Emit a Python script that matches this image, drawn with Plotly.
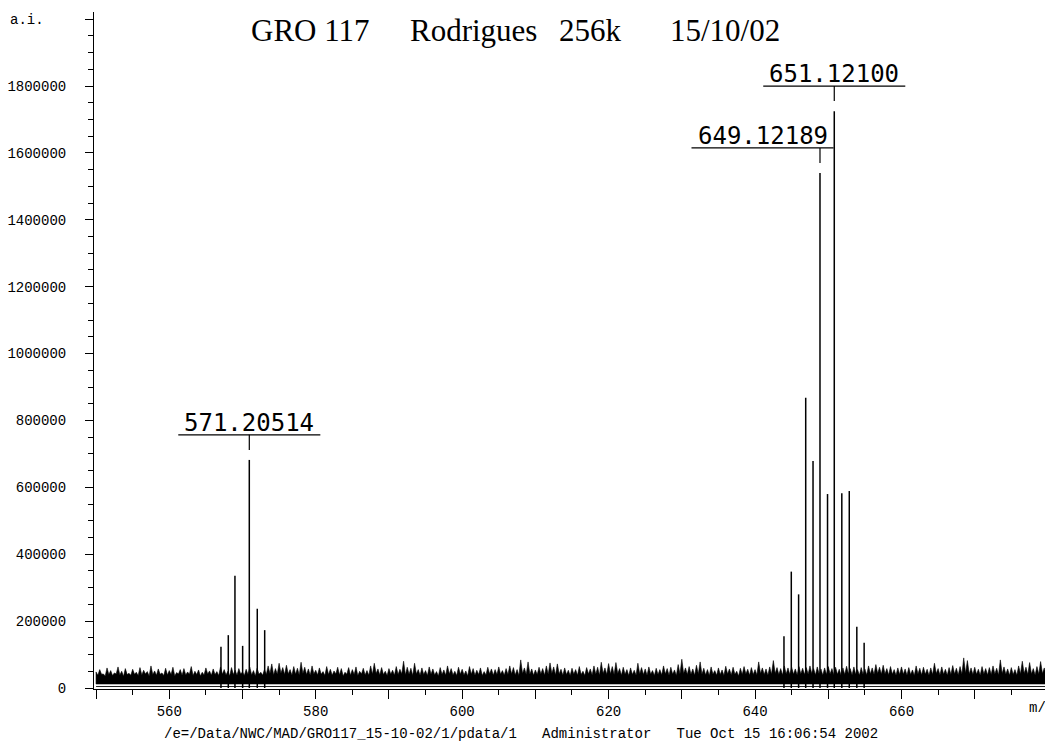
import plotly.graph_objects as go

# ---------------- data ----------------
peak_mz = [567.06, 568.06, 568.97, 570.02, 570.93, 572.02, 573.03,
           643.95, 644.95, 645.95, 646.92, 647.92, 648.87, 649.90, 650.82,
           651.85, 652.87, 653.90, 654.90]
peak_int = [123000, 158000, 336000, 126000, 682000, 237000, 173000,
            155000, 348000, 280000, 868000, 679000, 1540000, 580000, 1725000,
            582000, 589000, 183000, 135000]

label_mz = [570.93, 648.87, 650.82]
label_int = [682000, 1540000, 1725000]
label_text = ["571.20514", "649.12189", "651.12100"]

# noise spike tops (thousands of counts), every 0.5 m/z from 550.0
noise_start = 550.0
noise_step = 0.5
noise_hi_k = [
    48, 55, 42, 60, 52, 45, 63, 50, 58, 44,
    56, 47, 61, 53, 49, 66, 51, 57, 45, 59,
    52, 62, 46, 55, 58, 48, 64, 50, 54, 47,
    60, 51, 57, 49, 63, 55, 50, 61, 53, 58,
    48, 56, 62, 52, 59, 47, 55, 66, 72, 58,
    74, 61, 68, 55, 64, 59, 77, 62, 57, 66,
    53, 60, 49, 64, 56, 51, 62, 58, 47, 61,
    55, 63, 50, 59, 52, 66, 74, 57, 61, 50,
    58, 53, 64, 56, 80, 62, 59, 74, 55, 60,
    52, 63, 57, 49, 61, 54, 66, 58, 50, 62,
    56, 51, 64, 58, 53, 60, 49, 62, 57, 55,
    63, 52, 58, 66, 61, 55, 84, 60, 78, 57,
    54, 62, 58, 66, 75, 63, 72, 56, 60, 53,
    59, 55, 64, 50, 61, 57, 66, 62, 77, 60,
    73, 64, 76, 58, 62, 55, 60, 53, 74, 61,
    57, 63, 52, 59, 55, 66, 58, 62, 54, 70,
    86, 60, 64, 57, 68, 78, 59, 55, 63, 52,
    60, 54, 65, 57, 62, 50, 59, 64, 56, 61,
    55, 78, 60, 57, 63, 82, 61, 58, 66, 60,
    62, 57, 64, 59, 61, 66, 58, 63, 57, 60,
    64, 58, 62, 56, 60, 65, 58, 63, 55, 61,
    57, 66, 60, 70, 62, 68, 58, 64, 55, 60,
    63, 57, 61, 54, 66, 59, 62, 56, 60, 74,
    58, 63, 56, 61, 67, 59, 64, 90, 82, 60,
    62, 56, 64, 58, 61, 66, 59, 84, 63, 57,
    61, 55, 66, 80, 62, 76, 58, 64, 79, 60,
]
# valleys between the noise spikes (thousands of counts)
noise_lo_k = [
    38, 41, 36, 40, 37, 42, 39, 35, 40, 38,
    41, 37, 39, 42, 36, 40, 38, 41, 37, 39,
    40, 36, 42, 38, 39, 41, 37, 40, 36, 39,
    42, 38, 40, 37, 41, 39, 36, 40, 38, 42,
    37, 40, 39, 36, 41, 38, 40, 43, 39, 41,
    44, 40, 42, 38, 41, 39, 43, 40, 38, 42,
    39, 41, 37, 40, 38, 42, 39, 36, 41, 38,
    40, 37, 42, 39, 38, 41, 43, 39, 40, 37,
    41, 38, 40, 42, 39, 41, 37, 42, 38, 40,
    37, 41, 39, 36, 40, 38, 42, 39, 37, 41,
    39, 36, 41, 38, 40, 37, 39, 42, 38, 40,
    41, 38, 40, 42, 39, 37, 43, 40, 41, 38,
    40, 42, 38, 41, 43, 39, 42, 38, 40, 37,
    41, 38, 40, 37, 42, 39, 41, 38, 43, 40,
    42, 40, 43, 38, 41, 37, 40, 38, 42, 40,
    38, 41, 37, 40, 39, 42, 38, 41, 37, 42,
    43, 40, 41, 38, 42, 41, 39, 37, 41, 38,
    40, 37, 42, 39, 41, 36, 40, 42, 38, 40,
    39, 43, 40, 38, 41, 43, 40, 39, 42, 40,
    41, 39, 42, 40, 41, 43, 39, 42, 38, 40,
    42, 39, 41, 38, 40, 42, 39, 41, 38, 40,
    39, 42, 40, 43, 41, 42, 39, 41, 38, 40,
    41, 38, 40, 37, 42, 39, 41, 38, 40, 43,
    39, 41, 38, 40, 42, 39, 41, 44, 42, 40,
    41, 38, 42, 39, 40, 42, 39, 43, 41, 38,
    40, 38, 42, 43, 40, 42, 39, 41, 43, 40,
]
noise_floor = 12000     # bottom of the dense noise band
noise_base = 4500       # lowest noise trace

y_tickvals = [0, 200000, 400000, 600000, 800000, 1000000, 1200000,
              1400000, 1600000, 1800000, 2000000]
y_ticktext = ["0", "200000", "400000", "600000", "800000", "1000000",
              "1200000", "1400000", "1600000", "1800000", ""]
x_tickvals = [550, 560, 570, 580, 590, 600, 610, 620, 630, 640, 650, 660, 670]
x_ticktext = ["", "560", "", "580", "", "600", "", "620", "", "640", "", "660", ""]

title_parts = ["GRO 117", "Rodrigues", "256k", "15/10/02"]
footer_text = "/e=/Data/NWC/MAD/GRO117_15-10-02/1/pdata/1\u00a0\u00a0\u00a0Administrator\u00a0\u00a0\u00a0Tue Oct 15 16:06:54 2002"

# ---------------- layout geometry ----------------
W, H = 1045, 745
ML, MR, MT, MB = 94, 0, 12, 56
X_RANGE = [549.72, 679.6]
Y_RANGE = [-3000, 2021500]
PW, PH = W - ML - MR, H - MT - MB


def px_x(px):
    return (px - ML) / PW


def px_y(py):
    return (H - MB - py) / PH


noise_mz = [noise_start + i * noise_step for i in range(len(noise_hi_k))]

fig = go.Figure()

# noise band: spikes (tops) alternating with valleys, filled down to the floor
bx, by = [noise_mz[0]], [noise_floor]
for m, hi, lo in zip(noise_mz, noise_hi_k, noise_lo_k):
    bx += [m, m + noise_step / 2]
    by += [hi * 1000, lo * 1000]
bx += [noise_mz[-1] + noise_step / 2, noise_mz[0]]
by += [noise_floor, noise_floor]
fig.add_trace(go.Scatter(x=bx, y=by, fill="toself", fillcolor="black",
                         mode="lines", line=dict(width=0.6, color="black"),
                         hoverinfo="skip"))

# lowest noise trace
fig.add_trace(go.Scatter(x=[noise_mz[0], noise_mz[-1] + noise_step / 2],
                         y=[noise_base, noise_base],
                         mode="lines", line=dict(color="#222", width=1.2),
                         hoverinfo="skip"))

# peaks
px_, py_ = [], []
for m, h in zip(peak_mz, peak_int):
    px_ += [m, m, None]
    py_ += [0, h, None]
fig.add_trace(go.Scatter(x=px_, y=py_, mode="lines",
                         line=dict(color="black", width=1.5), hoverinfo="skip"))

# peak labels
gap = 30000
marker_len = 45000
half_w = 9.7
label_shift = [0, -7.85, 0]
for m, h, t, s in zip(label_mz, label_int, label_text, label_shift):
    y_line = h + gap + marker_len
    fig.add_shape(type="line", xref="x", yref="y", x0=m, x1=m,
                  y0=h + gap, y1=y_line, line=dict(color="black", width=1.2))
    fig.add_shape(type="line", xref="x", yref="y", x0=m + s - half_w,
                  x1=m + s + half_w, y0=y_line, y1=y_line,
                  line=dict(color="black", width=1.2))
    fig.add_annotation(x=m + s, y=y_line, xref="x", yref="y", text=t,
                       showarrow=False, yanchor="bottom", xanchor="center",
                       yshift=-4,
                       font=dict(family="DejaVu Sans Mono", size=24, color="black"))

# title pieces
title_centers = [310, 473, 590, 725]
for t, c in zip(title_parts, title_centers):
    fig.add_annotation(x=px_x(c), y=px_y(31), xref="paper", yref="paper",
                       text=t, showarrow=False, xanchor="center", yanchor="middle",
                       font=dict(family="Liberation Serif", size=31, color="black"))

mono = dict(family="Liberation Mono", size=14, color="black")
fig.add_annotation(x=px_x(8), y=px_y(20), xref="paper", yref="paper", text="a.i.",
                   showarrow=False, xanchor="left", yanchor="middle", font=mono)
fig.add_annotation(x=px_x(1027), y=px_y(708), xref="paper", yref="paper", text="m/z",
                   showarrow=False, xanchor="left", yanchor="middle", font=mono)
fig.add_annotation(x=px_x(162), y=px_y(734), xref="paper", yref="paper",
                   text=footer_text, showarrow=False, xanchor="left",
                   yanchor="middle", font=mono)

fig.update_layout(
    width=W, height=H,
    margin=dict(l=ML, r=MR, t=MT, b=MB, pad=0),
    plot_bgcolor="white", paper_bgcolor="white",
    showlegend=False,
    xaxis=dict(range=X_RANGE, showgrid=False, zeroline=False,
               showline=True, linecolor="black", linewidth=1,
               ticks="outside", ticklen=9, tickwidth=1, tickcolor="black",
               tickvals=x_tickvals, ticktext=x_ticktext, tickfont=mono,
               minor=dict(dtick=5, tick0=0, ticks="outside", ticklen=5,
                          tickcolor="black", tickwidth=1),
               fixedrange=True),
    yaxis=dict(range=Y_RANGE, showgrid=False, zeroline=False,
               showline=True, linecolor="black", linewidth=1,
               ticks="outside", ticklen=8, tickwidth=1, tickcolor="black",
               tickvals=y_tickvals, ticktext=y_ticktext, tickfont=mono,
               ticklabelstandoff=16,
               minor=dict(dtick=50000, tick0=0, ticks="outside", ticklen=5,
                          tickcolor="black", tickwidth=1),
               fixedrange=True),
)

fig.write_html("out.html")
